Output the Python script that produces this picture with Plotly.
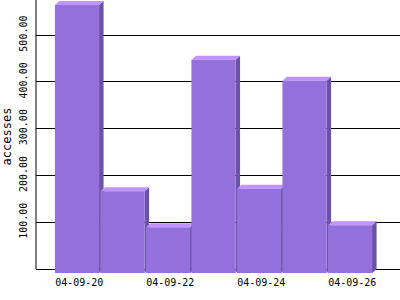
import plotly.graph_objects as go

# ---- data ----
dates = ["04-09-20", "04-09-21", "04-09-22", "04-09-23", "04-09-24", "04-09-25", "04-09-26"]
accesses = [573, 175, 98, 456, 180, 411, 102]
label_dates = ["04-09-20", "04-09-22", "04-09-24", "04-09-26"]
y_ticks = [100, 200, 300, 400, 500]

# ---- style / geometry ----
W, H = 400, 300
M_L, M_R, M_T, M_B = 36, 0, 0, 27
X_MIN, X_MAX = -1, 7
Y_MIN, Y_MAX = -8.5, 575
DEPTH_X_PX, DEPTH_Y_PX = 4.5, 4.0
BAR_W = 0.97
FRONT = "#9370DB"
TOP = "#C293FF"
SIDE = "#6B52A9"
FONT = "DejaVu Sans Mono"

plot_w = W - M_L - M_R
plot_h = H - M_T - M_B
dx = DEPTH_X_PX * (X_MAX - X_MIN) / plot_w
dy = DEPTH_Y_PX * (Y_MAX - Y_MIN) / plot_h

xs = list(range(len(dates)))

side_x, side_y, top_x, top_y, front_x, front_y = [], [], [], [], [], []
for i, v in zip(xs, accesses):
    x0, x1 = i - BAR_W / 2, i + BAR_W / 2
    side_x += [x1 - dx, x1, x1, x1 - dx, x1 - dx, None]
    side_y += [-dy, 0, v, v - dy, -dy, None]
    top_x += [x0 - dx, x1 - dx, x1, x0, x0 - dx, None]
    top_y += [v - dy, v - dy, v, v, v - dy, None]
    front_x += [x0 - dx, x1 - dx, x1 - dx, x0 - dx, x0 - dx, None]
    front_y += [-dy, -dy, v - dy, v - dy, -dy, None]

fig = go.Figure()
for px, py, col in [(side_x, side_y, SIDE), (top_x, top_y, TOP), (front_x, front_y, FRONT)]:
    fig.add_trace(go.Scatter(x=px, y=py, mode="lines", fill="toself", fillcolor=col,
                             line=dict(width=0, color=col), hoverinfo="skip",
                             showlegend=False))

label_pos = [xs[dates.index(d)] - dx / 2 for d in label_dates]

fig.update_layout(
    width=W, height=H,
    margin=dict(l=M_L, r=M_R, t=M_T, b=M_B, pad=0),
    paper_bgcolor="white", plot_bgcolor="white",
    font=dict(family=FONT, size=10, color="black"),
    xaxis=dict(range=[X_MIN, X_MAX], showgrid=False, zeroline=False, showline=False,
               tickmode="array", tickvals=label_pos, ticktext=label_dates,
               ticks="", tickfont=dict(family=FONT, size=10, color="black"),
               ticklabelstandoff=2),
    yaxis=dict(range=[Y_MIN, Y_MAX], showgrid=True, gridcolor="black", gridwidth=1,
               zeroline=True, zerolinecolor="black", zerolinewidth=1,
               showline=False, tickmode="array", tickvals=y_ticks,
               ticktext=[f"{t:.2f}" for t in y_ticks], tickangle=-90,
               ticks="", tickfont=dict(family=FONT, size=10, color="black"),
               ticklabelstandoff=6,
               title=dict(text="accesses", font=dict(family=FONT, size=12, color="black"),
                          standoff=4)),
    shapes=[dict(type="line", xref="paper", yref="y", x0=0, x1=0, y0=0, y1=Y_MAX,
                 line=dict(color="black", width=1), layer="below")],
)

fig.write_html("out.html")
